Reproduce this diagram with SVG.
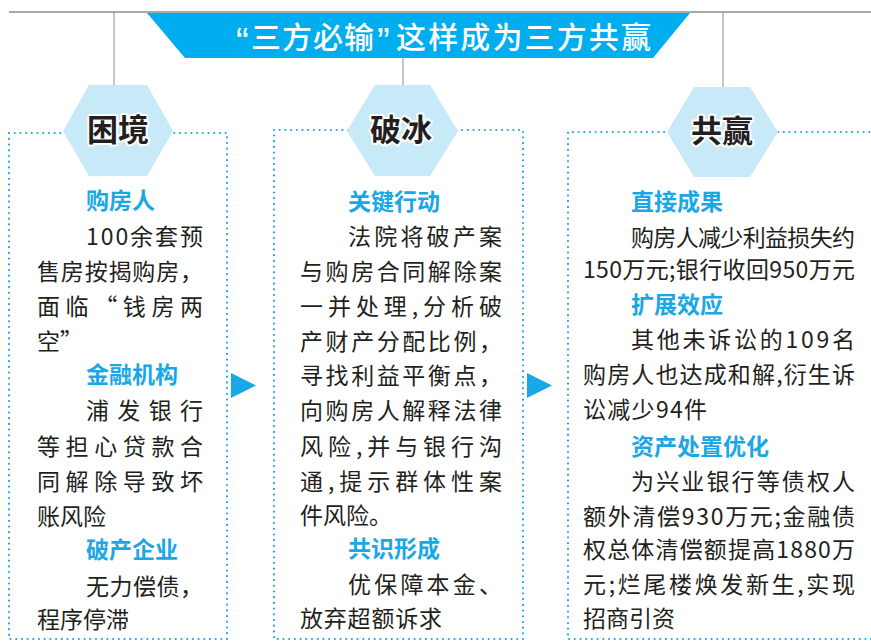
<svg xmlns="http://www.w3.org/2000/svg" width="871" height="641" viewBox="0 0 871 641">
<style>
.bg{fill:#ffffff}
.gl{stroke:#8c8c8c;stroke-width:1;fill:none}
.dot{fill:none;stroke:#1EA8E4;stroke-width:2.2;stroke-linecap:round;stroke-dasharray:0 5.7}
.hex{fill:#C8E9F8}
.hx{font-family:"Noto Sans CJK SC","Noto Sans",sans-serif;font-size:31px;font-weight:700;fill:#231F20;stroke:#ffffff;stroke-width:4;paint-order:stroke;stroke-linejoin:round;text-anchor:middle}
.ttl{font-family:"Noto Sans CJK SC","Noto Sans",sans-serif;font-size:30px;font-weight:500;fill:#ffffff}
.q{font-family:"Liberation Sans",sans-serif;font-size:38px}
.hd{font-family:"Noto Sans CJK SC","Noto Sans",sans-serif;font-size:23px;font-weight:700;fill:#1AA7E6}
.bd{font-family:"Noto Sans CJK SC","Noto Sans",sans-serif;font-size:23px;font-weight:400;fill:#231F20}
.arr{fill:#1AA7E6}
</style>
<rect class="bg" x="0" y="0" width="871" height="641"/>

<g id="connectors">
<line class="gl" x1="9" y1="12" x2="871" y2="12" style="stroke-width:1.6"/>
<line class="gl" x1="114" y1="12" x2="114" y2="86"/>
<line class="gl" x1="403" y1="58" x2="403" y2="86"/>
<line class="gl" x1="723" y1="12" x2="723" y2="88"/>
<polygon class="arr" points="231,373 256,385.5 231,398"/>
<polygon class="arr" points="527,373 552,385.5 527,398"/>
</g>

<g id="title">
<polygon fill="#00AEEF" points="147,13 690,13 653,58 185,58"/>
<text class="ttl" y="48"><tspan class="q" x="236" y="55">“</tspan><tspan x="251" y="48" textLength="123" lengthAdjust="spacing">三方必输</tspan><tspan class="q" x="377" y="55">”</tspan><tspan x="396" y="48" textLength="255" lengthAdjust="spacing">这样成为三方共赢</tspan></text>
</g>

<g id="box-1">
<path class="dot" d="M9,133 H227 V639 H9 Z"/>
<text class="hd" x="86" y="209">购房人</text>
<text class="bd" x="86" y="245" textLength="117" lengthAdjust="spacing">100余套预</text>
<text class="bd" x="37" y="280" textLength="166" lengthAdjust="spacing">售房按揭购房，</text>
<text class="bd" x="37" y="315" textLength="166" lengthAdjust="spacing">面临“钱房两</text>
<text class="bd" x="37" y="350">空”</text>
<text class="hd" x="86" y="383">金融机构</text>
<text class="bd" x="86" y="419" textLength="117" lengthAdjust="spacing">浦发银行</text>
<text class="bd" x="37" y="455" textLength="166" lengthAdjust="spacing">等担心贷款合</text>
<text class="bd" x="37" y="490" textLength="166" lengthAdjust="spacing">同解除导致坏</text>
<text class="bd" x="37" y="525">账风险</text>
<text class="hd" x="86" y="558">破产企业</text>
<text class="bd" x="86" y="595" textLength="117" lengthAdjust="spacing">无力偿债，</text>
<text class="bd" x="37" y="628">程序停滞</text>
</g>

<g id="box-2">
<path class="dot" d="M274,130 H523 V639 H274 Z"/>
<text class="hd" x="348" y="210">关键行动</text>
<text class="bd" x="348" y="245" textLength="154" lengthAdjust="spacing">法院将破产案</text>
<text class="bd" x="300" y="280" textLength="202" lengthAdjust="spacing">与购房合同解除案</text>
<text class="bd" x="300" y="315" textLength="202" lengthAdjust="spacing">一并处理,分析破</text>
<text class="bd" x="300" y="350" textLength="202" lengthAdjust="spacing">产财产分配比例，</text>
<text class="bd" x="300" y="384" textLength="202" lengthAdjust="spacing">寻找利益平衡点，</text>
<text class="bd" x="300" y="419" textLength="202" lengthAdjust="spacing">向购房人解释法律</text>
<text class="bd" x="300" y="455" textLength="202" lengthAdjust="spacing">风险,并与银行沟</text>
<text class="bd" x="300" y="490" textLength="202" lengthAdjust="spacing">通,提示群体性案</text>
<text class="bd" x="300" y="524">件风险。</text>
<text class="hd" x="348" y="557">共识形成</text>
<text class="bd" x="348" y="593" textLength="154" lengthAdjust="spacing">优保障本金、</text>
<text class="bd" x="300" y="627" textLength="142" lengthAdjust="spacing">放弃超额诉求</text>
</g>

<g id="box-3">
<path class="dot" d="M875,132 H568 V639 H875"/>
<text class="hd" x="631" y="210">直接成果</text>
<text class="bd" x="631" y="246" textLength="224" lengthAdjust="spacing">购房人减少利益损失约</text>
<text class="bd" x="583" y="278" textLength="272" lengthAdjust="spacing">150万元;银行收回950万元</text>
<text class="hd" x="631" y="313">扩展效应</text>
<text class="bd" x="631" y="348" textLength="224" lengthAdjust="spacing">其他未诉讼的109名</text>
<text class="bd" x="583" y="383" textLength="272" lengthAdjust="spacing">购房人也达成和解,衍生诉</text>
<text class="bd" x="583" y="418" textLength="124" lengthAdjust="spacing">讼减少94件</text>
<text class="hd" x="631" y="455">资产处置优化</text>
<text class="bd" x="631" y="490" textLength="224" lengthAdjust="spacing">为兴业银行等债权人</text>
<text class="bd" x="583" y="525" textLength="272" lengthAdjust="spacing">额外清偿930万元;金融债</text>
<text class="bd" x="583" y="558" textLength="272" lengthAdjust="spacing">权总体清偿额提高1880万</text>
<text class="bd" x="583" y="593" textLength="272" lengthAdjust="spacing">元;烂尾楼焕发新生,实现</text>
<text class="bd" x="583" y="627">招商引资</text>
</g>

<g id="node-kunjing">
<polygon class="hex" points="89,85 147,85 173,131 147,176 89,176 63,131"/>
<text class="hx" x="118" y="141">困境</text>
</g>
<g id="node-pobing">
<polygon class="hex" points="375,85 430,85 458,131 430,176 375,176 347,131"/>
<text class="hx" x="401" y="141">破冰</text>
</g>
<g id="node-gongying">
<polygon class="hex" points="694,87 750,87 778,132 750,177 694,177 667,132"/>
<text class="hx" x="722" y="142">共赢</text>
</g>
</svg>
